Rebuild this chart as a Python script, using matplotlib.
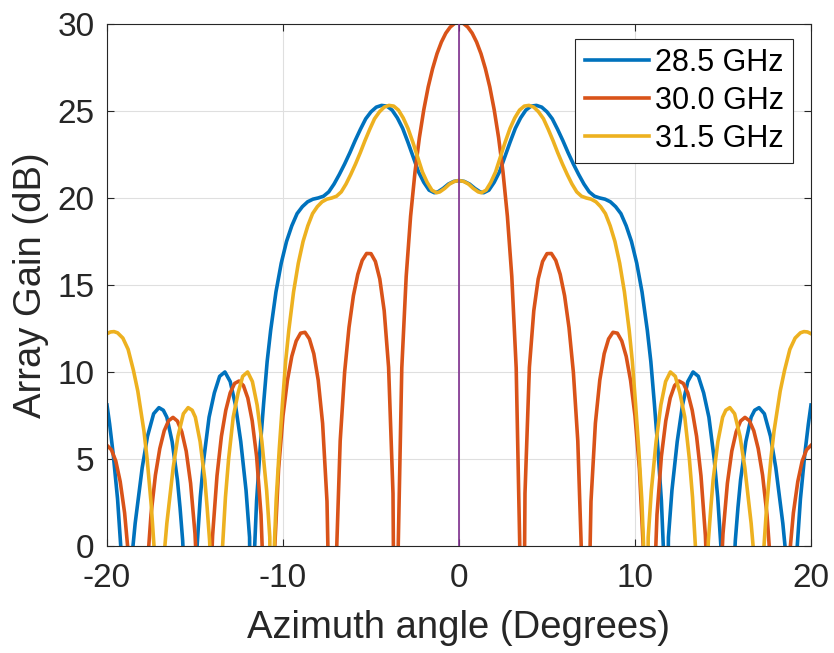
import matplotlib
import numpy as np

matplotlib.use("Agg")
import matplotlib.pyplot as plt

# Array gain vs. azimuth for three carrier frequencies (one side, 0..20 deg).
# All three patterns are symmetric about broadside, so only the positive half is stored.
RED_DEG = [0.0, 0.25, 0.5, 0.75, 1.0, 1.25, 1.5, 1.75, 2.0, 2.25, 2.5, 2.75, 3.0, 3.25, 3.5, 3.583,
           3.75, 4.0, 4.25, 4.5, 4.75, 5.0, 5.25, 5.5, 5.75, 6.0, 6.25, 6.5, 6.75, 7.0, 7.181, 7.25,
           7.5, 7.75, 8.0, 8.25, 8.5, 8.75, 9.0, 9.25, 9.5, 9.75, 10.0, 10.25, 10.5, 10.807, 11.0,
           11.25, 11.5, 11.75, 12.0, 12.25, 12.5, 12.75, 13.0, 13.25, 13.5, 13.75, 14.0, 14.25, 14.478,
           14.75, 15.0, 15.25, 15.5, 15.75, 16.0, 16.25, 16.5, 16.75, 17.0, 17.25, 17.5, 17.75, 18.0,
           18.21, 18.5, 18.75, 19.0, 19.25, 19.5, 19.75, 20.0]
RED_DB = [30.10, 30.03, 29.82, 29.47, 28.96, 28.29, 27.43, 26.38, 25.07, 23.47, 21.49, 18.95, 15.49,
          10.23, -2.39, -20.0, 3.02, 10.27, 13.52, 15.34, 16.35, 16.80, 16.81, 16.41, 15.61, 14.38,
          12.56, 9.97, 6.04, -1.71, -20.0, -10.3, 2.56, 7.05, 9.53, 11.05, 11.90, 12.28, 12.23, 11.78,
          10.90, 9.51, 7.48, 4.43, -0.71, -20.0, -5.1, 1.8, 5.15, 7.19, 8.5, 9.22, 9.48, 9.34, 8.8,
          7.8, 6.3, 4.03, 0.6, -5.8, -20.0, -4.6, 0.7, 3.6, 5.45, 6.56, 7.18, 7.39, 7.2, 6.62, 5.6,
          4.07, 1.8, -1.75, -8.6, -20.0, -6.0, -0.9, 1.9, 3.7, 4.88, 5.53, 5.78]

BLUE_DEG = [0.0, 0.3, 0.6, 0.9, 1.2, 1.4, 1.7, 2.0, 2.3, 2.6, 2.9, 3.2, 3.5, 3.8, 4.1, 4.4, 4.7, 5.0,
            5.3, 5.6, 5.9, 6.2, 6.5, 6.8, 7.1, 7.4, 7.7, 8.0, 8.3, 8.6, 8.9, 9.2, 9.5, 9.8, 10.1, 10.4,
            10.7, 10.9, 11.1, 11.3, 11.5, 11.65, 11.78, 11.9, 12.1, 12.4, 12.7, 13.0, 13.3, 13.6, 13.9,
            14.2, 14.5, 14.7, 14.9, 15.1, 15.3, 15.5, 15.7, 15.85, 16.0, 16.3, 16.6, 16.8, 17.05, 17.35,
            17.7, 18.0, 18.2, 18.4, 18.6, 18.8, 19.0, 19.2, 19.4, 19.65, 19.85, 20.0]
BLUE_DB = [21.0, 20.95, 20.8, 20.55, 20.35, 20.3, 20.45, 20.9, 21.5, 22.35, 23.2, 24.0, 24.6, 25.05,
           25.28, 25.32, 25.22, 24.95, 24.55, 23.95, 23.3, 22.6, 21.95, 21.35, 20.8, 20.35, 20.1, 20.0,
           19.93, 19.78, 19.5, 19.1, 18.4, 17.5, 16.25, 14.6, 12.4, 10.6, 8.2, 5.6, 2.6, -1.0, -12.0,
           0.5, 3.2, 6.0, 8.1, 9.45, 10.0, 9.75, 8.8, 7.4, 5.0, 2.8, -0.3, -5.0, -6.0, -4.0, 0.3, 2.2,
           3.8, 6.0, 7.4, 7.8, 7.95, 7.6, 6.3, 4.5, 2.9, 1.3, -0.8, -5.0, -4.0, -0.3, 2.7, 5.3, 7.0, 8.1]

YELLOW_DEG = [0.0, 0.27, 0.54, 0.81, 1.09, 1.27, 1.54, 1.81, 2.08, 2.35, 2.62, 2.90, 3.17, 3.44, 3.71,
              3.98, 4.25, 4.52, 4.80, 5.07, 5.34, 5.61, 5.88, 6.15, 6.42, 6.69, 6.96, 7.23, 7.51, 7.78,
              8.05, 8.32, 8.59, 8.86, 9.13, 9.40, 9.67, 9.85, 10.03, 10.21, 10.39, 10.53, 10.65, 10.75,
              10.93, 11.20, 11.47, 11.74, 12.01, 12.29, 12.55, 12.83, 13.09, 13.27, 13.45, 13.63, 13.81,
              13.99, 14.17, 14.31, 14.44, 14.71, 14.98, 15.16, 15.39, 15.66, 15.97, 16.24, 16.42, 16.60,
              16.78, 16.96, 17.13, 17.31, 17.49, 17.72, 17.90, 18.05, 18.25, 18.5, 18.8, 19.1, 19.4,
              19.6, 19.8, 20.0]
YELLOW_DB = [21.0, 20.95, 20.8, 20.55, 20.35, 20.3, 20.45, 20.9, 21.5, 22.35, 23.2, 24.0, 24.6, 25.05,
             25.28, 25.32, 25.22, 24.95, 24.55, 23.95, 23.3, 22.6, 21.95, 21.35, 20.8, 20.35, 20.1, 20.0,
             19.93, 19.78, 19.5, 19.1, 18.4, 17.5, 16.25, 14.6, 12.4, 10.6, 8.2, 5.6, 2.6, -1.0, -12.0,
             0.5, 3.2, 6.0, 8.1, 9.45, 10.0, 9.75, 8.8, 7.4, 5.0, 2.8, -0.3, -5.0, -6.0, -4.0, 0.3, 2.2,
             3.8, 6.0, 7.4, 7.8, 7.95, 7.6, 6.3, 4.5, 2.9, 1.3, -0.8, -5.0, -4.0, -0.3, 2.4, 5.0, 6.6,
             7.6, 8.9, 10.1, 11.3, 11.95, 12.25, 12.32, 12.3, 12.2]

SERIES = [
    ("28.5 GHz", BLUE_DEG, BLUE_DB, "#0072BD"),
    ("30.0 GHz", RED_DEG, RED_DB, "#D95319"),
    ("31.5 GHz", YELLOW_DEG, YELLOW_DB, "#EDB120"),
]


def mirror(deg, db):
    deg = np.asarray(deg, dtype=float)
    db = np.asarray(db, dtype=float)
    return np.concatenate([-deg[::-1], deg[1:]]), np.concatenate([db[::-1], db[1:]])


plt.rcParams["font.family"] = ["Liberation Sans", "DejaVu Sans"]
plt.rcParams["axes.unicode_minus"] = False

fig = plt.figure(figsize=(8.34, 6.53), dpi=100)
ax = fig.add_axes([0.1283, 0.1639, 0.8441, 0.7994])

for label, deg, db, color in SERIES:
    x, y = mirror(deg, db)
    ax.plot(x, y, color=color, linewidth=2.6, label=label, solid_joinstyle="round")

ax.axvline(0, color="#7E2F8E", linewidth=1.2, zorder=5)

ax.set_xlim(-20, 20)
ax.set_ylim(0, 30)
ax.set_xticks([-20, -10, 0, 10, 20])
ax.set_yticks([0, 5, 10, 15, 20, 25, 30])
ax.grid(True, color="#dfdfdf", linewidth=0.8)
ax.set_axisbelow(True)
for s in ax.spines.values():
    s.set_color("#262626")
    s.set_linewidth(0.8)
ax.tick_params(direction="in", length=5, width=0.8, color="#262626", labelsize=24,
               top=True, right=True, labelcolor="#262626")
ax.tick_params(axis="x", pad=12)
ax.tick_params(axis="y", pad=9)
ax.set_xlabel("Azimuth angle (Degrees)", fontsize=27.5, color="#262626", labelpad=12)
ax.set_ylabel("Array Gain (dB)", fontsize=27.5, color="#262626", labelpad=6)

leg = ax.legend(loc="upper right", bbox_to_anchor=(0.9744, 0.9713), borderaxespad=0,
                fontsize=22, handlelength=2.1, handletextpad=0.2, labelspacing=0.26,
                borderpad=0.3, fancybox=False, framealpha=1)
leg.get_frame().set_edgecolor("#262626")
leg.get_frame().set_linewidth(0.8)

fig.savefig("out.png", dpi=100)
